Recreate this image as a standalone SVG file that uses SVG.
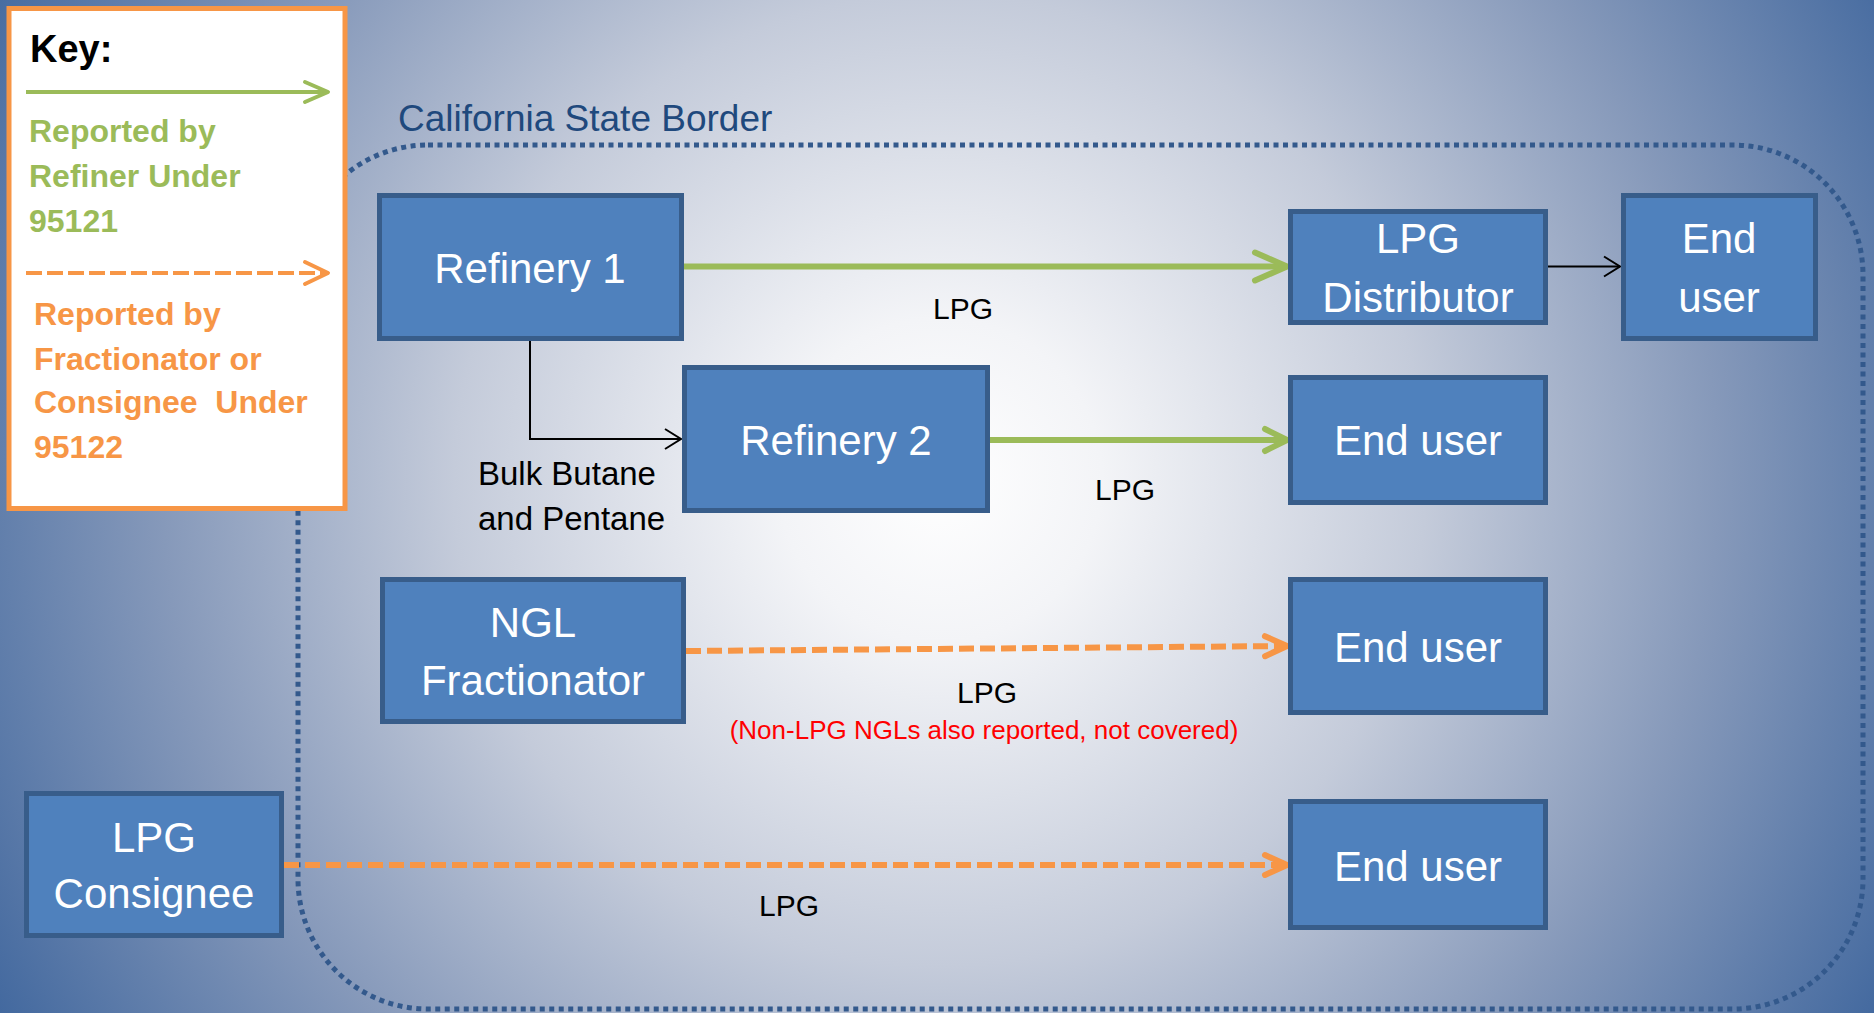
<svg xmlns="http://www.w3.org/2000/svg" width="1874" height="1013" viewBox="0 0 1874 1013">
  <style>
    .box { fill: #4F81BD; stroke: #385D8A; stroke-width: 5; }
    .boxtxt { font-family: "Liberation Sans", Arial, sans-serif; font-size: 42px; fill: #FFFFFF; text-anchor: middle; }
    .lbl { font-family: "Liberation Sans", Arial, sans-serif; fill: #000000; }
    .keytxt { font-family: "Liberation Sans", Arial, sans-serif; font-weight: bold; font-size: 32px; }
    .green { stroke: #9BBB59; fill: none; }
    .orange { stroke: #F79646; fill: none; }
    .black { stroke: #000000; fill: none; stroke-width: 2; }
  </style>
  <defs>
    <radialGradient id="bg" gradientUnits="userSpaceOnUse" cx="940" cy="480" r="1080">
      <stop offset="0" stop-color="#FFFFFF"/>
      <stop offset="0.15" stop-color="#F3F4F7"/>
      <stop offset="0.45" stop-color="#C4CBDA"/>
      <stop offset="0.72" stop-color="#8699BA"/>
      <stop offset="1" stop-color="#43699F"/>
    </radialGradient>
    <marker id="arrGreenLg" markerUnits="userSpaceOnUse" viewBox="0 0 40 36" markerWidth="40" markerHeight="36" refX="36" refY="18" orient="auto">
      <path d="M4,4 L36,18 L4,32" fill="none" stroke="#9BBB59" stroke-width="6" stroke-linecap="round" stroke-linejoin="round"/>
    </marker>
    <marker id="arrGreenSm" markerUnits="userSpaceOnUse" viewBox="0 0 30 30" markerWidth="30" markerHeight="30" refX="26" refY="15" orient="auto">
      <path d="M4,4 L26,15 L4,26" fill="none" stroke="#9BBB59" stroke-width="6" stroke-linecap="round" stroke-linejoin="round"/>
    </marker>
    <marker id="arrOrange" markerUnits="userSpaceOnUse" viewBox="0 0 30 30" markerWidth="30" markerHeight="30" refX="26" refY="15" orient="auto">
      <path d="M4,5 L26,15 L4,25" fill="none" stroke="#F79646" stroke-width="6" stroke-linecap="round" stroke-linejoin="round"/>
    </marker>
    <marker id="arrGreenKey" markerUnits="userSpaceOnUse" viewBox="0 0 30 30" markerWidth="30" markerHeight="30" refX="26" refY="15" orient="auto">
      <path d="M3,5 L26,15 L3,25" fill="none" stroke="#9BBB59" stroke-width="4" stroke-linecap="round" stroke-linejoin="round"/>
    </marker>
    <marker id="arrOrangeKey" markerUnits="userSpaceOnUse" viewBox="0 0 30 30" markerWidth="30" markerHeight="30" refX="26" refY="15" orient="auto">
      <path d="M3,4 L26,15 L3,26" fill="none" stroke="#F79646" stroke-width="4" stroke-linecap="round" stroke-linejoin="round"/>
    </marker>
    <marker id="arrBlack" markerUnits="userSpaceOnUse" viewBox="0 0 20 24" markerWidth="20" markerHeight="24" refX="18" refY="12" orient="auto">
      <path d="M2,2 L18,12 L2,22" fill="none" stroke="#000000" stroke-width="2"/>
    </marker>
  </defs>

  <!-- background -->
  <rect x="0" y="0" width="1874" height="1013" fill="url(#bg)"/>

  <!-- state border -->
  <g id="state-border">
    <rect x="298" y="145" width="1565" height="864" rx="130" ry="130" fill="none" stroke="#33598C" stroke-width="5" stroke-dasharray="5 4.5"/>
    <text x="398" y="131" font-family="'Liberation Sans', Arial, sans-serif" font-size="37" fill="#1F497D">California State Border</text>
  </g>

  <!-- key -->
  <g id="key">
    <rect x="9" y="8.5" width="336" height="500" fill="#FFFFFF" stroke="#F79646" stroke-width="5"/>
    <text x="30" y="62" font-family="'Liberation Sans', Arial, sans-serif" font-weight="bold" font-size="38" fill="#000000">Key:</text>
    <line x1="26" y1="92" x2="328" y2="92" class="green" stroke-width="4" marker-end="url(#arrGreenKey)"/>
    <text class="keytxt" fill="#9BBB59">
      <tspan x="29" y="142">Reported by</tspan>
      <tspan x="29" y="187">Refiner Under</tspan>
      <tspan x="29" y="232">95121</tspan>
    </text>
    <line x1="26" y1="273" x2="328" y2="273" class="orange" stroke-width="4" stroke-dasharray="16 5" marker-end="url(#arrOrangeKey)"/>
    <text class="keytxt" fill="#F79646" xml:space="preserve"><tspan x="34" y="325">Reported by</tspan><tspan x="34" y="370">Fractionator or</tspan><tspan x="34" y="413">Consignee  Under</tspan><tspan x="34" y="458">95122</tspan></text>
  </g>

  <!-- connectors -->
  <g id="connectors">
    <line x1="684" y1="266.5" x2="1287" y2="266.5" class="green" stroke-width="6" marker-end="url(#arrGreenLg)"/>
    <line x1="1548" y1="266.5" x2="1620" y2="266.5" class="black" marker-end="url(#arrBlack)"/>
    <path d="M530,341 V439 H681" class="black" marker-end="url(#arrBlack)"/>
    <line x1="990" y1="440" x2="1287" y2="440" class="green" stroke-width="6" marker-end="url(#arrGreenSm)"/>
    <line x1="686" y1="651" x2="1287" y2="646" class="orange" stroke-width="6" stroke-dasharray="15 6" marker-end="url(#arrOrange)"/>
    <line x1="284" y1="865" x2="1287" y2="865" class="orange" stroke-width="6" stroke-dasharray="15 6" marker-end="url(#arrOrange)"/>
    <text class="lbl" x="963" y="319" font-size="30" text-anchor="middle">LPG</text>
    <text class="lbl" font-size="33"><tspan x="478" y="485">Bulk Butane</tspan><tspan x="478" y="530">and Pentane</tspan></text>
    <text class="lbl" x="1125" y="500" font-size="30" text-anchor="middle">LPG</text>
    <text class="lbl" x="987" y="703" font-size="30" text-anchor="middle">LPG</text>
    <text class="lbl" x="984" y="739" font-size="26" text-anchor="middle" style="fill:#FF0000">(Non-LPG NGLs also reported, not covered)</text>
    <text class="lbl" x="789" y="916" font-size="30" text-anchor="middle">LPG</text>
  </g>

  <!-- nodes -->
  <g id="refinery-1">
    <rect class="box" x="379.5" y="195.5" width="302" height="143"/>
    <text class="boxtxt" x="530" y="283">Refinery 1</text>
  </g>
  <g id="lpg-distributor">
    <rect class="box" x="1290.5" y="211.5" width="255" height="111"/>
    <text class="boxtxt"><tspan x="1418" y="253">LPG</tspan><tspan x="1418" y="312">Distributor</tspan></text>
  </g>
  <g id="end-user-1">
    <rect class="box" x="1623.5" y="195.5" width="192" height="143"/>
    <text class="boxtxt"><tspan x="1719" y="253">End</tspan><tspan x="1719" y="312">user</tspan></text>
  </g>
  <g id="refinery-2">
    <rect class="box" x="684.5" y="367.5" width="303" height="143"/>
    <text class="boxtxt" x="836" y="455">Refinery 2</text>
  </g>
  <g id="end-user-2">
    <rect class="box" x="1290.5" y="377.5" width="255" height="125"/>
    <text class="boxtxt" x="1418" y="455">End user</text>
  </g>
  <g id="ngl-fractionator">
    <rect class="box" x="382.5" y="579.5" width="301" height="142"/>
    <text class="boxtxt"><tspan x="533" y="637">NGL</tspan><tspan x="533" y="695">Fractionator</tspan></text>
  </g>
  <g id="end-user-3">
    <rect class="box" x="1290.5" y="579.5" width="255" height="133"/>
    <text class="boxtxt" x="1418" y="662">End user</text>
  </g>
  <g id="lpg-consignee">
    <rect class="box" x="26.5" y="793.5" width="255" height="142"/>
    <text class="boxtxt"><tspan x="154" y="852">LPG</tspan><tspan x="154" y="908">Consignee</tspan></text>
  </g>
  <g id="end-user-4">
    <rect class="box" x="1290.5" y="801.5" width="255" height="126"/>
    <text class="boxtxt" x="1418" y="881">End user</text>
  </g>
</svg>
